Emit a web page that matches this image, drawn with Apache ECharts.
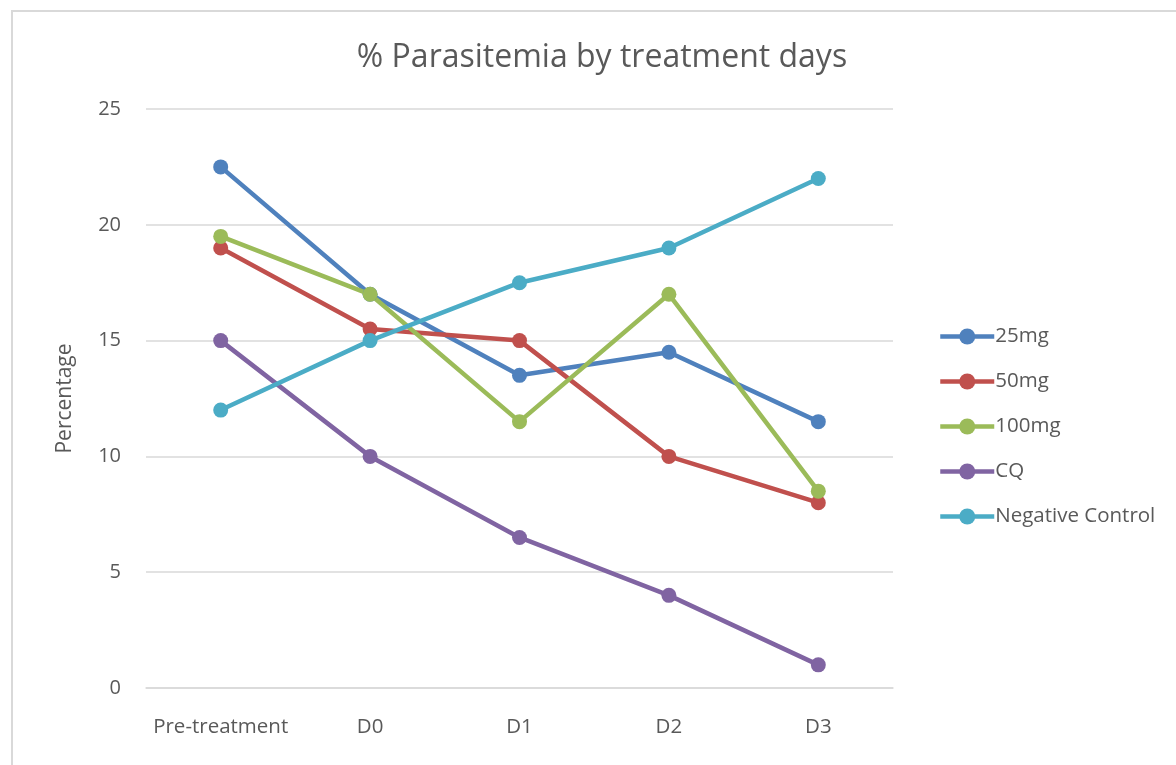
<!DOCTYPE html>
<html>
<head>
<meta charset="utf-8">
<script src="https://cdn.jsdelivr.net/npm/echarts@6/dist/echarts.min.js"></script>
<style>
html,body{margin:0;padding:0;background:#fff;}
#chart-container{width:1176px;height:765px;}
</style>
</head>
<body>
<div id="chart-container"></div>
<script>
var TITLE = "% Parasitemia by treatment days";
var days = ["Pre-treatment", "D0", "D1", "D2", "D3"];
var mg25 = [22.5, 17, 13.5, 14.5, 11.5];
var mg50 = [19, 15.5, 15, 10, 8];
var mg100 = [19.5, 17, 11.5, 17, 8.5];
var cq = [15, 10, 6.5, 4, 1];
var negControl = [12, 15, 17.5, 19, 22];

var seriesNames = ["25mg", "50mg", "100mg", "CQ", "Negative Control"];
var seriesData = [mg25, mg50, mg100, cq, negControl];
var colors = ["#4F81BD", "#C0504D", "#9BBB59", "#8064A2", "#4BACC6"];

var FONT = "Open Sans";
var TEXT_COLOR = "#595959";

var myChart = echarts.init(document.getElementById('chart-container'));

var series = seriesNames.map(function (name, i) {
    return {
        name: name,
        type: 'line',
        data: seriesData[i],
        symbol: 'circle',
        symbolSize: 15,
        lineStyle: {width: 4.5, color: colors[i]},
        itemStyle: {color: colors[i]}
    };
});

var option = {
    backgroundColor: '#fff',
    animation: false,
    graphic: [{
        type: 'rect',
        shape: {x: 12, y: 11, width: 1200, height: 800},
        style: {fill: 'none', stroke: '#d9d9d9', lineWidth: 2},
        silent: true
    }],
    title: {
        text: TITLE,
        left: 597,
        top: 37,
        textAlign: 'center',
        textStyle: {fontFamily: FONT, fontSize: 32, fontWeight: 'normal', color: TEXT_COLOR}
    },
    legend: {
        orient: 'vertical',
        left: 933,
        top: 321,
        itemWidth: 54,
        itemHeight: 20,
        itemGap: 24,
        lineStyle: {width: 4.5},
        textStyle: {fontFamily: FONT, fontSize: 20.5, color: TEXT_COLOR, padding: [0, 0, 0, -4]},
        data: seriesNames
    },
    grid: {left: 146, right: 283, top: 109, bottom: 77, containLabel: false},
    xAxis: {
        type: 'category',
        data: days,
        boundaryGap: true,
        axisLine: {show: true, lineStyle: {color: '#d9d9d9', width: 1.5}},
        axisTick: {show: false},
        axisLabel: {interval: 0, fontFamily: FONT, fontSize: 20.5, color: TEXT_COLOR, margin: 29}
    },
    yAxis: {
        type: 'value',
        min: 0,
        max: 25,
        interval: 5,
        name: 'Percentage',
        nameLocation: 'middle',
        nameGap: 70,
        nameTextStyle: {fontFamily: FONT, fontSize: 21, color: TEXT_COLOR},
        axisLine: {show: false},
        axisTick: {show: false},
        axisLabel: {fontFamily: FONT, fontSize: 20, color: TEXT_COLOR, margin: 25},
        splitLine: {lineStyle: {color: '#d9d9d9', width: 1.5}}
    },
    series: series
};

if (option && typeof option === "object") {
    myChart.setOption(option, true);
}
</script>
</body>
</html>
